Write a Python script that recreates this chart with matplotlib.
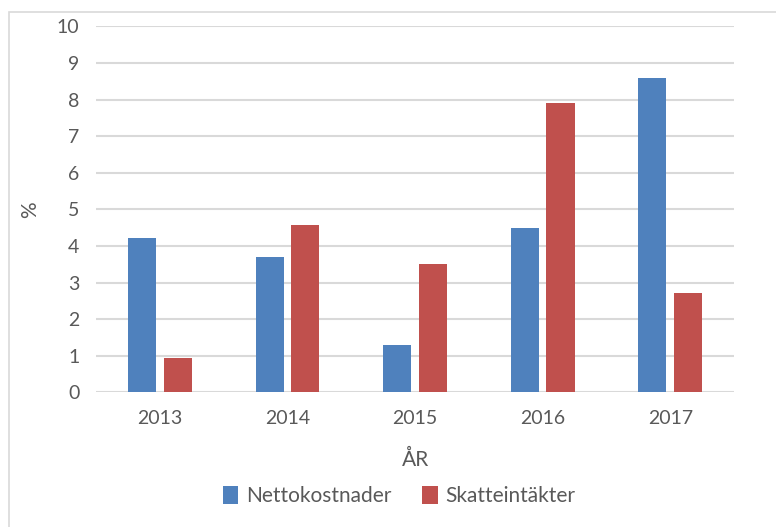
import matplotlib
matplotlib.use('Agg')
import matplotlib.pyplot as plt
import numpy as np
from matplotlib.patches import Rectangle

years = ['2013', '2014', '2015', '2016', '2017']
nettokostnader = [4.22, 3.70, 1.30, 4.50, 8.60]
skatteintakter = [0.95, 4.57, 3.50, 7.90, 2.70]

blue = '#4F81BD'
red = '#C0504D'
txt = '#595959'

plt.rcParams['font.family'] = ['Lato', 'DejaVu Sans']

fig = plt.figure(figsize=(7.76, 5.27), dpi=100)
ax = fig.add_axes([0.1237, 0.2556, 0.8223, 0.6944])

# chart area border
fig.patches.append(Rectangle((9 / 776, -0.1), 1, 1.1 - 12 / 527, transform=fig.transFigure,
                             fill=False, edgecolor='#D9D9D9', linewidth=1.2))

x = np.arange(len(years))
w = 0.22
ax.bar(x - 0.14, nettokostnader, w, color=blue, label='Nettokostnader', zorder=3)
ax.bar(x + 0.14, skatteintakter, w, color=red, label='Skatteintäkter', zorder=3)

ax.set_xlim(-0.5, 4.5)
ax.set_ylim(0, 10)
ax.set_yticks(range(0, 11))
ax.set_xticks(x)
ax.set_xticklabels(years)
ax.grid(axis='y', color='#D9D9D9', linewidth=1.5, zorder=0)
for s in ax.spines.values():
    s.set_visible(False)
ax.tick_params(length=0, labelsize=14, colors=txt)
ax.tick_params(axis='x', pad=13)
ax.tick_params(axis='y', pad=12)

ax.set_xlabel('ÅR', fontsize=15, color=txt, labelpad=16)
ax.set_ylabel('%', fontsize=15, color=txt, labelpad=12)

ax.legend(loc='upper center', bbox_to_anchor=(0.475, -0.205), ncol=2, frameon=False,
          fontsize=15, labelcolor=txt, handlelength=0.75, handleheight=0.9,
          handletextpad=0.35, columnspacing=1.5)

fig.savefig('out.png', dpi=100)
